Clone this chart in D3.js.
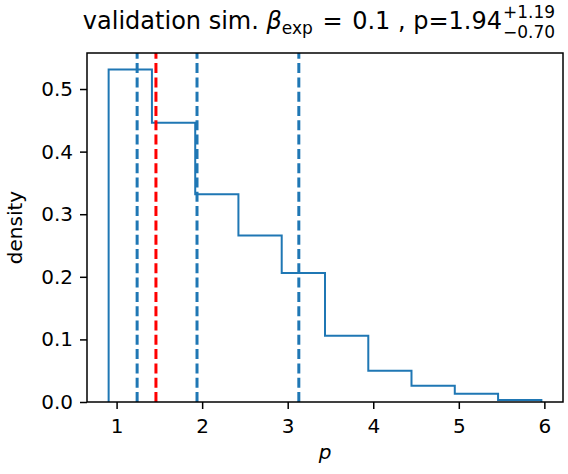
<!DOCTYPE html>
<html>
  <head>
    <meta charset="utf-8">
    <title>validation sim</title>
    <script src="https://cdn.jsdelivr.net/npm/d3@7"></script>
    <style type="text/css">
      body { margin: 0; background: #fff; }
      svg { font-family: "DejaVu Sans", sans-serif; }
      text { white-space: pre; }
    </style>
  </head>
  <body>
    <script>
    //Size of the figure and axes box
    var svgWidth = 568;
    var svgHeight = 474;
    var margin = {left: 87, top: 53, right: 5, bottom: 72};
    var plotW = svgWidth - margin.left - margin.right;
    var plotH = svgHeight - margin.top - margin.bottom;

    //Histogram (density)
    var binEdges = [0.907, 1.413, 1.919, 2.424, 2.930, 3.436, 3.942, 4.447, 4.953, 5.459, 5.965];
    var density = [0.531, 0.446, 0.332, 0.266, 0.206, 0.106, 0.050, 0.026, 0.013, 0.003];

    //Vertical markers
    var quantiles = [1.24, 1.94, 3.13];   // blue dashed: median and interval
    var trueValue = [1.46];               // red dashed

    //Tick labels
    var xTicks = [1, 2, 3, 4, 5, 6];
    var yTicks = [0.0, 0.1, 0.2, 0.3, 0.4, 0.5];

    var blue = "#1f77b4";

    //Scales, with matplotlib-like 5% margins
    var xLo = d3.min(binEdges), xHi = d3.max(binEdges);
    var xPad = (xHi - xLo) * 0.05;
    var xScale = d3.scaleLinear()
      .domain([xLo - xPad, xHi + xPad])
      .range([0, plotW]);

    var yScale = d3.scaleLinear()
      .domain([0, d3.max(density) * 1.05])
      .range([plotH, 0]);

    var svg = d3.select("body")
      .append("svg")
        .attr("width", svgWidth)
        .attr("height", svgHeight);

    var g = svg.append("g")
      .attr("transform", "translate(" + margin.left + "," + margin.top + ")");

    //Step outline of the histogram
    var pts = [[binEdges[0], 0]];
    density.forEach(function(d, i) {
      pts.push([binEdges[i], d]);
      pts.push([binEdges[i + 1], d]);
    });
    pts.push([binEdges[binEdges.length - 1], 0]);

    var line = d3.line()
      .x(function(d) { return xScale(d[0]); })
      .y(function(d) { return yScale(d[1]); });

    g.append("path")
      .datum(pts)
      .attr("d", line)
      .attr("fill", "none")
      .attr("stroke", blue)
      .attr("stroke-width", 2)
      .attr("stroke-linejoin", "miter");

    //Dashed vertical lines
    function vlines(vals, color) {
      g.selectAll(null)
        .data(vals)
        .enter()
        .append("line")
        .attr("x1", function(d) { return xScale(d); })
        .attr("x2", function(d) { return xScale(d); })
        .attr("y1", plotH)
        .attr("y2", 0)
        .attr("stroke", color)
        .attr("stroke-width", 3)
        .attr("stroke-dasharray", "10,4.3");
    }
    vlines(quantiles, blue);
    vlines(trueValue, "#ff0000");

    //Axes
    var xAxis = g.append("g")
      .attr("transform", "translate(0," + plotH + ")")
      .call(d3.axisBottom(xScale).tickValues(xTicks).tickFormat(d3.format("d"))
        .tickSize(7).tickPadding(10));
    var yAxis = g.append("g")
      .call(d3.axisLeft(yScale).tickValues(yTicks).tickFormat(d3.format(".1f"))
        .tickSize(7).tickPadding(7));

    [xAxis, yAxis].forEach(function(ax) {
      ax.select(".domain").remove();
      ax.selectAll("line").attr("stroke", "#000").attr("stroke-width", 1.5);
      ax.selectAll("text")
        .attr("fill", "#000")
        .attr("font-family", "DejaVu Sans")
        .attr("font-size", "20px");
    });

    //Frame
    g.append("rect")
      .attr("width", plotW)
      .attr("height", plotH)
      .attr("fill", "none")
      .attr("stroke", "#000")
      .attr("stroke-width", 1.5);

    //Axis labels
    svg.append("text")
      .attr("x", margin.left + plotW / 2)
      .attr("y", 459)
      .attr("text-anchor", "middle")
      .attr("font-size", "20px")
      .attr("font-style", "italic")
      .text("p");

    svg.append("text")
      .attr("transform", "translate(22," + (margin.top + plotH / 2) + ") rotate(-90)")
      .attr("text-anchor", "middle")
      .attr("font-size", "20px")
      .text("density");

    //Title with subscript and stacked super/subscripts
    var title = svg.append("g");
    var t = title.append("text")
      .attr("y", 29)
      .attr("font-size", "24px")
      .attr("fill", "#000");
    t.append("tspan").text("validation sim. ");
    t.append("tspan").attr("font-style", "italic").text("β");
    t.append("tspan").attr("font-size", "17px").attr("dy", 5).text("exp");
    t.append("tspan").attr("dy", -5).attr("dx", 2).text(" = ");
    t.append("tspan").attr("dx", 2).text("0.1 , p=1.94");

    var w1 = t.node().getComputedTextLength() + 4;
    var sup = title.append("text")
      .attr("x", w1 + 1)
      .attr("y", 18)
      .attr("font-size", "17px")
      .text("+1.19");
    var sub = title.append("text")
      .attr("x", w1 + 1)
      .attr("y", 38)
      .attr("font-size", "17px")
      .text("\u22120.70");
    var w2 = Math.max(sup.node().getComputedTextLength(), sub.node().getComputedTextLength());
    var total = w1 + 1 + w2;
    title.attr("transform", "translate(" + (319 - total / 2) + ",0)");
    </script>
  </body>
</html>
